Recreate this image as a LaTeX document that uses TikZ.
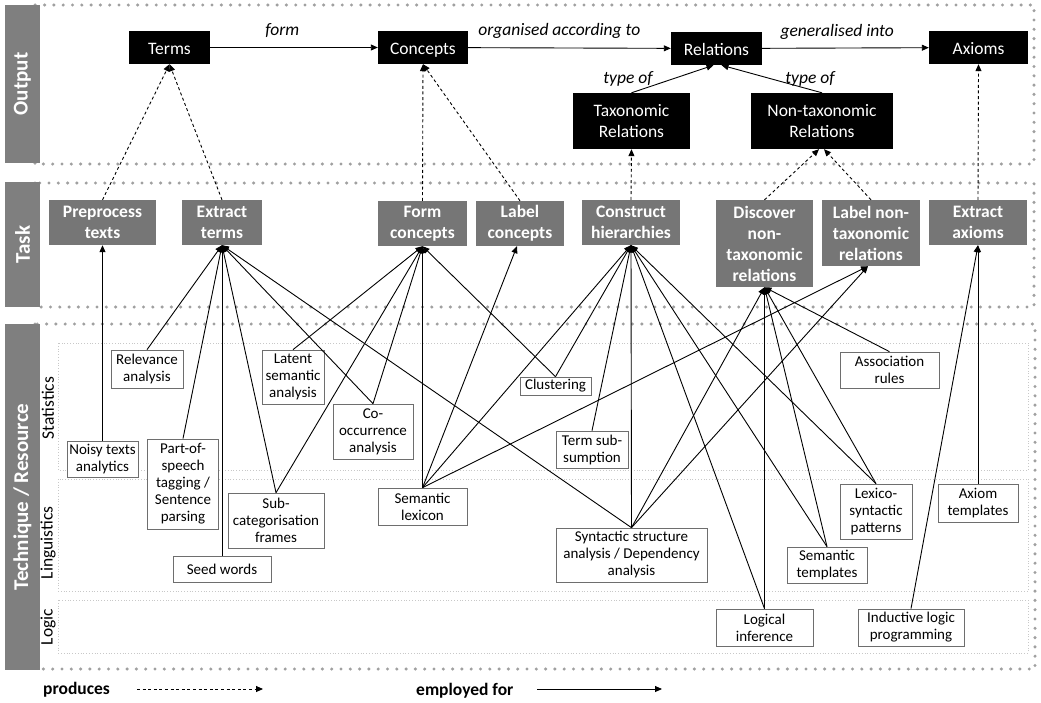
\documentclass[tikz,border=0pt]{standalone}
\usepackage{fontspec}
\setmainfont{Carlito}
\usepackage{tikz}
\usepackage{xcolor}
\usetikzlibrary{calc,arrows.meta}

\definecolor{taskgray}{RGB}{118,118,118}
\definecolor{sidegray}{RGB}{127,127,127}
\definecolor{dotgray}{RGB}{160,160,160}
\definecolor{lanegray}{RGB}{200,200,200}
\definecolor{techgray}{RGB}{110,110,110}

\newcommand{\outfont}{\fontsize{17.5}{21}\selectfont}
\newcommand{\taskfont}{\fontsize{17.5}{21}\selectfont\bfseries}
\newcommand{\techfont}{\fontsize{15}{17}\selectfont}
\newcommand{\sidefont}{\fontsize{21}{24}\selectfont\bfseries}

\begin{document}
\begin{tikzpicture}[x=1pt,y=-1pt]
        \tikzstyle{outbox}=[fill=black,text=white,font=\outfont,align=center,inner sep=2pt,minimum height=33pt]
        \tikzstyle{outone}=[outbox,text height=14pt,text depth=1pt]
        \tikzstyle{taskbox}=[fill=taskgray,text=white,font=\taskfont,align=center,inner sep=2pt,minimum height=45pt]
        \tikzstyle{techbox}=[draw=techgray,fill=white,line width=0.7pt,font=\techfont,align=center,inner sep=2pt]
        \tikzstyle{lbl}=[font=\outfont\itshape,inner sep=0pt,anchor=base]
        \tikzstyle{side}=[fill=sidegray,text=white,font=\sidefont,rotate=90,minimum height=35pt,inner sep=0pt]
        \tikzstyle{sub}=[font=\outfont,rotate=90,inner sep=0pt]
        \tikzstyle{frame}=[draw=dotgray,line width=3.4pt,line cap=round,dash pattern=on 0pt off 9.3pt]
        \tikzstyle{lane}=[draw=lanegray,line width=0.8pt,dotted]
        \tikzstyle{emp}=[-{Triangle[length=7pt,width=6pt]},line width=0.9pt]
        \tikzstyle{prod}=[emp,dash pattern=on 3pt off 2.6pt]
        \tikzstyle{leg}=[font=\taskfont,inner sep=0pt,anchor=base west]

        \fill[white] (0,0) rectangle (1041,702);
        \useasboundingbox (0,0) rectangle (1041,702);

        % bands
        \draw[frame] (35,5) rectangle (1034,164);
        \draw[frame] (35,183) rectangle (1034,307);
        \draw[frame] (35,324) rectangle (1035,669);
        \draw[lane] (58,343) rectangle (1028,470);
        \draw[lane] (58,479) rectangle (1028,591);
        \draw[lane] (58,600) rectangle (1028,653);

        \node[side,minimum width=158pt] (sout) at (22.5,84) {Output};
        \node[side,minimum width=125pt] (stask) at (22.5,244.5) {Task};
        \node[side,minimum width=346pt] (stech) at (22.5,497) {Technique / Resource};
        \node[sub] (sstat) at (48,408) {Statistics};
        \node[sub] (sling) at (48,543) {Linguistics};
        \node[sub] (slog) at (48,627) {Logic};

        % output
        \node[outone,minimum width=81pt] (terms) at (169.5,47.5) {Terms};
        \node[outone,minimum width=90pt] (concepts) at (423,47.5) {Concepts};
        \node[outone,minimum width=91pt] (rel) at (716.5,48.5) {Relations};
        \node[outone,minimum width=99pt] (axioms) at (978.5,47.5) {Axioms};
        \node[outbox,minimum width=117pt,minimum height=56pt] (tax) at (631.5,121) {Taxonomic\\Relations};
        \node[outbox,minimum width=142pt,minimum height=56pt] (ntax) at (822,121) {Non-taxonomic\\Relations};

        \draw[emp] (terms) -- node[lbl,pos=0.43,yshift=12pt] {form} (concepts);
        \draw[emp] (concepts) -- node[lbl,pos=0.45,yshift=12pt] {organised according to} (rel);
        \draw[emp] (rel) -- node[lbl,pos=0.45,yshift=12pt] {generalised into} (axioms);
        \draw[emp] (tax.north) -- ($(rel.south)+(-3,0)$);
        \draw[emp] (ntax.north) -- ($(rel.south)+(5,0)$);
        \node[lbl] (ty1) at (628,83) {type of};
        \node[lbl] (ty2) at (810,83) {type of};

        % tasks
        \node[taskbox,minimum width=107pt] (pre) at (102.5,222.5) {Preprocess\\texts};
        \node[taskbox,minimum width=80pt] (ext) at (222,222.5) {Extract\\terms};
        \node[taskbox,minimum width=89pt] (form) at (422.5,223.5) {Form\\concepts};
        \node[taskbox,minimum width=88pt] (lblc) at (520,223.5) {Label\\concepts};
        \node[taskbox,minimum width=98pt] (cons) at (631,222.5) {Construct\\hierarchies};
        \node[taskbox,minimum width=97pt,minimum height=87pt] (disc) at (764.5,243.5) {Discover\\non-\\taxonomic\\relations};
        \node[taskbox,minimum width=98pt,minimum height=66pt] (lnt) at (871,233) {Label non-\\taxonomic\\relations};
        \node[taskbox,minimum width=98pt] (exa) at (978,222.5) {Extract\\axioms};

        \draw[prod] (pre.north) -- (terms.south);
        \draw[prod] (ext.north) -- (terms.south);
        \draw[prod] (form.north) -- (concepts.south);
        \draw[prod] (lblc.north) -- (concepts.south);
        \draw[prod] (cons.north) -- (tax.south);
        \draw[prod] (disc.north) -- ($(ntax.south)+(-3,0)$);
        \draw[prod] (lnt.north) -- ($(ntax.south)+(2,0)$);
        \draw[prod] (exa.north) -- (axioms.south);

        % techniques and resources
        \node[techbox,minimum width=72pt,minimum height=38pt] (relev) at (147,369) {Relevance\\analysis};
        \node[techbox,minimum width=71pt,minimum height=36pt] (noisy) at (102.5,459) {Noisy texts\\analytics};
        \node[techbox,minimum width=71pt,minimum height=90pt] (post) at (183,484) {Part-of-\\speech\\tagging /\\Sentence\\parsing};
        \node[techbox,minimum width=62pt,minimum height=54pt] (lsa) at (293,377) {Latent\\semantic\\analysis};
        \node[techbox,minimum width=80pt,minimum height=55pt] (cooc) at (373,431.5) {Co-\\occurrence\\analysis};
        \node[techbox,minimum width=96pt,minimum height=55pt] (subcat) at (276,520.5) {Sub-\\categorisation\\frames};
        \node[techbox,minimum width=98pt,minimum height=26pt] (seed) at (222,569) {Seed words};
        \node[techbox,minimum width=89pt,minimum height=37pt] (lex) at (422.5,506.5) {Semantic\\lexicon};
        \node[techbox,minimum width=71pt,minimum height=18pt,inner sep=1pt] (clust) at (555.5,386) {Clustering};
        \node[techbox,minimum width=72pt,minimum height=37pt] (tsub) at (592,449.5) {Term sub-\\sumption};
        \node[techbox,minimum width=151pt,minimum height=54pt] (synt) at (631.5,555) {Syntactic structure\\analysis / Dependency\\analysis};
        \node[techbox,minimum width=99pt,minimum height=36pt] (assoc) at (889.5,370) {Association\\rules};
        \node[techbox,minimum width=72pt,minimum height=55pt] (lexsyn) at (876,511.5) {Lexico-\\syntactic\\patterns};
        \node[techbox,minimum width=80pt,minimum height=38pt] (axt) at (978,503) {Axiom\\templates};
        \node[techbox,minimum width=80pt,minimum height=36pt] (semt) at (827,565) {Semantic\\templates};
        \node[techbox,minimum width=97pt,minimum height=37pt] (logic) at (764.5,627.5) {Logical\\inference};
        \node[techbox,minimum width=106pt,minimum height=37pt] (ilp) at (911,627.5) {Inductive logic\\programming};

        \draw[emp] (noisy.north) -- (pre.south);
        \draw[emp] (relev.north) -- (ext.south);
        \draw[emp] (post.north) -- (ext.south);
        \draw[emp] (seed.north) -- (ext.south);
        \draw[emp] (subcat.north) -- (ext.south);
        \draw[emp] (cooc.north) -- (ext.south);
        \draw[emp] (synt.north) -- (ext.south);
        \draw[emp] (lsa.north) -- (form.south);
        \draw[emp] (subcat.north) -- (form.south);
        \draw[emp] (cooc.north) -- (form.south);
        \draw[emp] (lex.north) -- (form.south);
        \draw[emp] (clust.north) -- (form.south);
        \draw[emp] (lex.north) -- ($(lblc.south)+(-3,0)$);
        \draw[emp] (lex.north) -- (cons.south);
        \draw[emp] (clust.north) -- (cons.south);
        \draw[emp] (tsub.north) -- (cons.south);
        \draw[emp] (synt.north) -- (cons.south);
        \draw[emp] (logic.north) -- (cons.south);
        \draw[emp] (semt.north) -- (cons.south);
        \draw[emp] (lexsyn.north) -- (cons.south);
        \draw[emp] (synt.north) -- (disc.south);
        \draw[emp] (logic.north) -- (disc.south);
        \draw[emp] (semt.north) -- (disc.south);
        \draw[emp] (lexsyn.north) -- (disc.south);
        \draw[emp] (assoc.north) -- (disc.south);
        \draw[emp] (lex.north) -- ($(lnt.south)+(-3,0)$);
        \draw[emp] (synt.north) -- ($(lnt.south)+(-3,0)$);
        \draw[emp] (axt.north) -- (exa.south);
        \draw[emp] (ilp.north) -- (exa.south);

        % legend
        \node[leg] (lprod) at (43,694) {produces};
        \coordinate (p1) at (137,689);
        \coordinate (p2) at (263,689);
        \draw[prod] (p1) -- (p2);
        \node[leg] (lemp) at (416,695) {employed for};
        \coordinate (e1) at (537,689);
        \coordinate (e2) at (662,689);
        \draw[emp] (e1) -- (e2);
\end{tikzpicture}
\end{document}
